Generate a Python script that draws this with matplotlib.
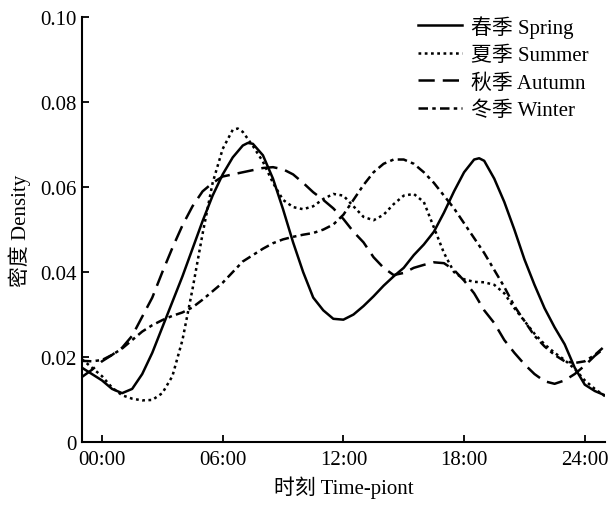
import matplotlib
matplotlib.use("Agg")
import matplotlib.pyplot as plt
import numpy as np

plt.rcParams['font.family'] = ['Liberation Serif', 'Noto Sans CJK SC']

hours = [-1, -0.5, 0, 0.5, 1, 1.5, 2, 2.5, 3, 3.5, 4, 4.5, 5, 5.5, 6, 6.5, 7, 7.5, 8, 8.5,
         9, 9.5, 10, 10.5, 11, 11.5, 12, 12.5, 13, 13.5, 14, 14.5, 15, 15.5, 16, 16.5,
         17, 17.5, 18, 18.5, 19, 19.5, 20, 20.5, 21, 21.5, 22, 22.5, 23, 23.5, 24, 24.5, 25]

spring = [0.0175, 0.016, 0.0145, 0.0125, 0.0115, 0.0125, 0.016, 0.021, 0.027, 0.033,
          0.039, 0.0455, 0.052, 0.058, 0.063, 0.067, 0.0698, 0.0702, 0.0675, 0.062,
          0.0548, 0.047, 0.040, 0.034, 0.031, 0.029, 0.0288, 0.030, 0.032, 0.0343,
          0.0368, 0.039, 0.041, 0.044, 0.0465, 0.0495, 0.054, 0.059, 0.0635, 0.0665,
          0.0662, 0.062, 0.0565, 0.050, 0.043, 0.037, 0.0315, 0.027, 0.023, 0.0175,
          0.0135, 0.012, 0.011]

summer = [0.0195, 0.0175, 0.0155, 0.0128, 0.011, 0.0102, 0.0098, 0.0099, 0.0115, 0.0155,
          0.024, 0.036, 0.049, 0.061, 0.069, 0.0735, 0.0730, 0.0697, 0.066, 0.061,
          0.057, 0.0553, 0.0548, 0.0555, 0.0572, 0.0584, 0.0580, 0.0555, 0.053, 0.0522,
          0.0535, 0.056, 0.058, 0.0584, 0.0565, 0.0505, 0.0445, 0.040, 0.0383, 0.0377,
          0.0376, 0.037, 0.035, 0.0315, 0.0285, 0.0255, 0.023, 0.021, 0.0193, 0.0172,
          0.0145, 0.0125, 0.0108]

autumn = [0.0153, 0.017, 0.019, 0.0205, 0.0222, 0.025, 0.0295, 0.034, 0.040, 0.0457,
          0.051, 0.0555, 0.059, 0.061, 0.0625, 0.063, 0.0635, 0.064, 0.0645, 0.0647,
          0.0642, 0.063, 0.061, 0.0588, 0.057, 0.055, 0.0525, 0.0495, 0.047, 0.0435,
          0.041, 0.0393, 0.0398, 0.041, 0.0417, 0.0423, 0.0421, 0.0405, 0.038, 0.035,
          0.031, 0.028, 0.024, 0.021, 0.0183, 0.016, 0.0143, 0.0137, 0.0145, 0.016,
          0.018, 0.0203, 0.0222]

winter = [0.0191, 0.019, 0.0193, 0.0205, 0.022, 0.0240, 0.026, 0.0275, 0.0287, 0.0297,
          0.0305, 0.0317, 0.0335, 0.0355, 0.0375, 0.040, 0.0425, 0.044, 0.0455, 0.0468,
          0.0477, 0.0483, 0.0488, 0.0492, 0.050, 0.0512, 0.0535, 0.057, 0.0605, 0.0635,
          0.0655, 0.0665, 0.0665, 0.0655, 0.0635, 0.061, 0.058, 0.055, 0.0515, 0.048,
          0.0445, 0.0405, 0.0365, 0.032, 0.0285, 0.025, 0.0225, 0.0205, 0.019, 0.0186,
          0.019, 0.0205, 0.0226]

# extra readings near the sharp peaks (hour, value)
spring_peaks = [(7.25, 0.0704), (18.75, 0.0668)]
summer_peaks = [(6.75, 0.0738)]

labels = ['春季 Spring', '夏季 Summer', '秋季 Autumn', '冬季 Winter']
xticks = [0, 6, 12, 18, 24]
xticklabels = ['00:00', '06:00', '12:00', '18:00', '24:00']
yticks = [0, 0.02, 0.04, 0.06, 0.08, 0.10]
yticklabels = ['0', '0.02', '0.04', '0.06', '0.08', '0.10']


def merged(xs, ys, extra):
    pts = sorted(list(zip(xs, ys)) + list(extra))
    return [p[0] for p in pts], [p[1] for p in pts]


fig = plt.figure(figsize=(6.11, 5.06), dpi=100)
ax = fig.add_axes([0.134, 0.1245, 0.856, 0.8395])

lw = 1.8
sx, sy = merged(hours, spring, spring_peaks)
ux, uy = merged(hours, summer, summer_peaks)
ax.plot(sx, sy, color='black', lw=lw, linestyle='-', label=labels[0],
        solid_joinstyle='round')
ax.plot(ux, uy, color='black', lw=lw, linestyle=(0, (1.1, 1.4)), label=labels[1])
ax.plot(hours, autumn, color='black', lw=lw, linestyle=(0, (6.5, 3.2)), label=labels[2])
ax.plot(hours, winter, color='black', lw=lw, linestyle=(0, (3.8, 1.7, 1.4, 1.7)),
        label=labels[3])

ax.set_xlim(-1, 25)
ax.set_ylim(0, 0.10)
ax.set_xticks(xticks)
ax.set_xticklabels(xticklabels)
ax.set_yticks(yticks)
ax.set_yticklabels(yticklabels)
ax.tick_params(direction='in', length=5, width=1.3, labelsize=15, colors='black')
ax.tick_params(axis='x', pad=6)
ax.tick_params(axis='y', pad=4)
for s in ['top', 'right']:
    ax.spines[s].set_visible(False)
for s in ['left', 'bottom']:
    ax.spines[s].set_linewidth(1.5)

ax.set_xlabel('时刻 Time-piont', fontsize=15, labelpad=4)
ax.set_ylabel('密度 Density', fontsize=15, labelpad=6)

leg = ax.legend(loc='upper right', frameon=False, fontsize=15, handlelength=2.1,
                labelspacing=0.38, borderaxespad=0.0, bbox_to_anchor=(0.985, 1.025),
                handletextpad=0.45)

fig.savefig('out.png', dpi=100)
